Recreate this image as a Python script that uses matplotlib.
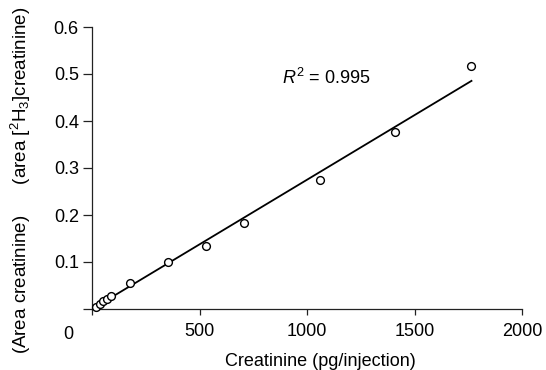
import matplotlib.pyplot as plt
import numpy as np

plt.rcParams["font.family"] = ["Liberation Sans", "DejaVu Sans"]
plt.rcParams["mathtext.fontset"] = "custom"
plt.rcParams["mathtext.rm"] = "Liberation Sans"
plt.rcParams["mathtext.it"] = "Liberation Sans:italic"

# creatinine amount (pg/injection) and area ratio
creatinine = [18, 35, 53, 70, 88, 176, 353, 530, 705, 1060, 1410, 1765]
area_ratio = [0.005, 0.011, 0.017, 0.022, 0.028, 0.056, 0.099, 0.134, 0.184, 0.274, 0.377, 0.517]

# regression line
slope = 0.000275
intercept = 0.0
r_squared = 0.995

x_ticks = [0, 500, 1000, 1500, 2000]
y_ticks = [0, 0.1, 0.2, 0.3, 0.4, 0.5, 0.6]

FS = 13


def main():
    fig = plt.figure(figsize=(5.46, 3.70), dpi=100)
    ax = fig.add_axes([92 / 546, 1 - 309 / 370, 430 / 546, 282 / 370])

    x = np.array(creatinine)
    y = np.array(area_ratio)
    xf = np.array([x.min() - 14, x.max()])
    ax.plot(xf, slope * xf + intercept, color="black", lw=1.3, zorder=2)
    ax.plot(x, y, "o", ms=5.6, mfc="white", mec="black", mew=1.0,
            clip_on=False, zorder=3)

    ax.set_xlim(0, 2000)
    ax.set_ylim(0, 0.6)
    ax.set_xticks(x_ticks)
    ax.set_yticks(y_ticks)
    ax.set_xticklabels([""] + [str(v) for v in x_ticks[1:]])
    ax.set_yticklabels([""] + [f"{v:.1f}" for v in y_ticks[1:]])

    for side in ["top", "right"]:
        ax.spines[side].set_visible(False)
    for side in ["left", "bottom"]:
        ax.spines[side].set_color("#222222")
        ax.spines[side].set_linewidth(0.9)

    ax.tick_params(axis="y", direction="out", length=6.5, width=0.9,
                   color="#222222", labelsize=FS, pad=3)
    ax.tick_params(axis="x", direction="out", length=4.3, width=0.9,
                   color="#222222", labelsize=FS, pad=6)

    ax.text(-0.056, -0.092, "0", transform=ax.transAxes, fontsize=FS,
            ha="center", va="center")

    ax.set_xlabel("Creatinine (pg/injection)", fontsize=FS)
    ax.xaxis.set_label_coords(0.53, -0.155)
    ax.set_ylabel("(Area creatinine)      (area [$^{2}$H$_{3}$]creatinine)",
                  fontsize=13.5)
    ax.yaxis.set_label_coords(-0.137, 0.456)

    ax.text(0.443, 0.82, f"$R^2$ = {r_squared}", transform=ax.transAxes,
            fontsize=FS, ha="left", va="center")

    fig.savefig("out.png", dpi=100)
    plt.close(fig)


if __name__ == "__main__":
    main()
